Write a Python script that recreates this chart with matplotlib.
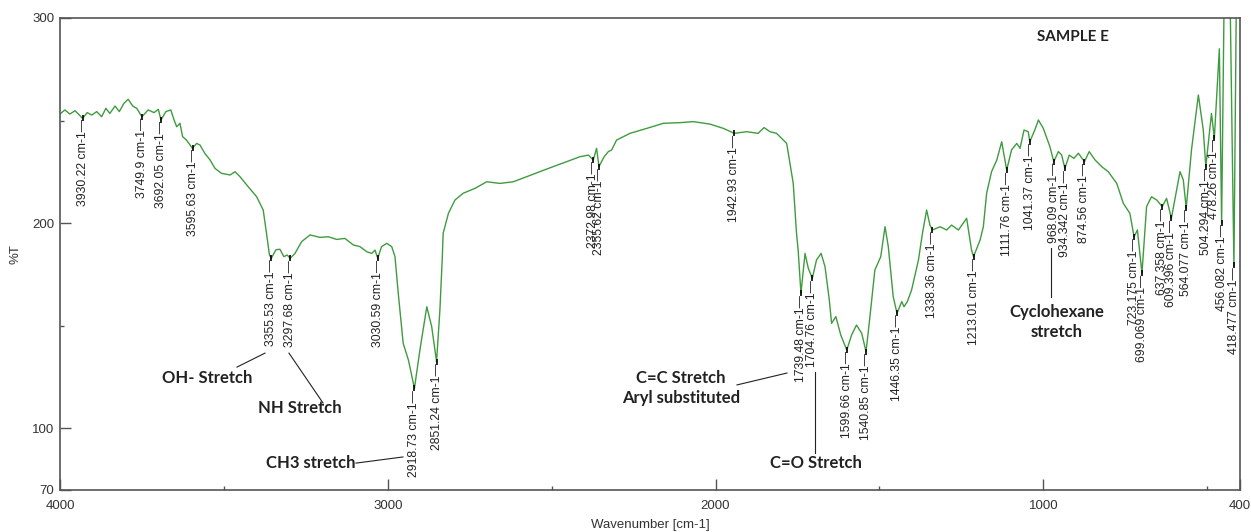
import numpy as np
import matplotlib
matplotlib.use("Agg")
import matplotlib.pyplot as plt
from matplotlib import font_manager

# IR spectrum trace, wavenumber [cm-1] and %T
wavenumber = [
    3998, 3985, 3970, 3954, 3931, 3917, 3903, 3888, 3873, 3860, 3848, 3832,
    3819, 3805, 3792, 3778, 3766, 3750, 3731, 3713, 3700, 3692, 3677, 3662,
    3652, 3644, 3634, 3626, 3614, 3596, 3583, 3573, 3558, 3542, 3527, 3507,
    3481, 3466, 3451, 3426, 3400, 3380, 3370, 3361, 3355.5, 3341, 3329, 3317,
    3307, 3297.7, 3283, 3263, 3237, 3207, 3181, 3156, 3131, 3105, 3085, 3064,
    3049, 3039, 3030.6, 3019, 3003, 2988, 2978, 2968, 2953, 2937, 2918.7, 2902,
    2881, 2866, 2851.2, 2841, 2834, 2831, 2815, 2795, 2770, 2734, 2698, 2658,
    2617, 2576, 2536, 2495, 2454, 2414, 2388, 2373, 2363, 2355.6, 2340, 2327,
    2317, 2302, 2261, 2210, 2159, 2109, 2068, 2017, 1976, 1942.9, 1905, 1870,
    1852, 1834, 1814, 1783, 1763, 1753, 1748, 1739.5, 1727, 1717, 1704.8, 1692,
    1678, 1666, 1653, 1646, 1633, 1618, 1599.7, 1585, 1570, 1554, 1540.9, 1529,
    1514, 1496, 1483, 1473, 1458, 1446.4, 1432, 1425, 1415, 1402, 1381, 1368,
    1356, 1346, 1338.4, 1315, 1295, 1280, 1259, 1234, 1219, 1213, 1193, 1183,
    1173, 1158, 1142, 1127, 1111.8, 1097, 1081, 1071, 1059, 1046, 1041.4, 1026,
    1015, 1000, 980, 968.1, 954, 944, 934.3, 921, 907, 893, 874.6, 860,
    842, 822, 802, 776, 756, 736, 723.2, 713, 699.1, 685, 670, 654,
    637.4, 624, 609.4, 583, 573, 564.1, 548, 527, 512, 504.3, 487, 478.3,
    469, 463, 456.1, 447, 432, 418.5, 410, 400,
]
transmittance = [
    253.5, 255.2, 253.2, 254.8, 251.1, 253.9, 252.7, 254.4, 251.9, 256.0, 253.5, 257.1,
    254.4, 258.4, 260.4, 257.1, 256.0, 251.9, 255.2, 253.9, 255.5, 250.3, 254.4, 255.2,
    250.3, 247.0, 248.7, 242.2, 240.5, 236.5, 238.9, 238.1, 234.0, 230.8, 226.7, 224.3,
    223.5, 225.1, 222.7, 217.8, 212.9, 206.4, 195.1, 184.5, 182.9, 187.1, 187.3, 183.7,
    184.5, 182.9, 185.3, 191.0, 194.3, 193.1, 193.4, 192.1, 192.6, 189.4, 188.6, 186.1,
    185.3, 186.9, 182.9, 188.6, 190.2, 188.6, 183.7, 165.8, 141.5, 133.3, 119.5, 138.2,
    159.3, 149.6, 132.5, 157.7, 182.1, 195.1, 204.8, 211.3, 214.6, 217.0, 220.2, 219.4,
    220.2, 222.7, 225.1, 227.6, 230.0, 232.4, 233.2, 230.8, 236.5, 227.6, 232.4, 234.9,
    235.7, 240.5, 243.8, 246.2, 248.7, 249.0, 249.5, 248.3, 246.2, 243.8, 244.6, 243.8,
    246.6, 244.6, 243.8, 238.9, 219.4, 195.1, 186.9, 165.8, 185.3, 178.0, 173.1, 182.1,
    185.3, 178.8, 162.6, 151.2, 154.5, 145.5, 138.2, 145.5, 150.4, 146.3, 137.4, 154.5,
    177.2, 183.7, 198.3, 188.6, 164.2, 156.1, 161.8, 159.3, 161.8, 167.4, 182.1, 195.9,
    206.4, 199.1, 196.7, 198.3, 196.7, 199.1, 196.7, 202.4, 186.9, 183.7, 191.8, 198.3,
    214.6, 225.1, 230.8, 239.7, 225.9, 235.7, 238.9, 236.5, 245.4, 244.6, 239.7, 245.4,
    250.3, 246.2, 237.3, 230.0, 234.9, 233.2, 226.7, 233.2, 231.6, 234.1, 230.0, 234.9,
    230.8, 227.6, 225.1, 219.4, 209.7, 204.8, 193.4, 196.7, 175.6, 208.1, 212.9, 211.3,
    208.1, 212.1, 202.4, 225.1, 221.1, 207.3, 235.7, 262.5, 245.4, 227.6, 253.5, 241.4,
    268.2, 285.0, 200.0, 330.0, 330.0, 179.0, 330.0, 330.0,
]

# picked peaks
peak_labels = [
    "3930.22", "3749.9", "3692.05", "3595.63", "3355.53", "3297.68", "3030.59",
    "2918.73", "2851.24", "2372.98", "2355.62", "1942.93", "1739.48", "1704.76",
    "1599.66", "1540.85", "1446.35", "1338.36", "1213.01", "1111.76", "1041.37",
    "968.09", "934.342", "874.56", "723.175", "699.069", "637.358", "609.396",
    "564.077", "504.294", "478.26", "456.082", "418.477",
]

names = {f.name for f in font_manager.fontManager.ttflist}
if "Liberation Sans Narrow" in names:
    peak_font, peak_size = "Liberation Sans Narrow", 10.5
else:
    peak_font, peak_size = "Liberation Sans", 8.8
note_font = "Lato" if "Lato" in names else "DejaVu Sans"

fig = plt.figure(figsize=(12.51, 5.32), dpi=100)
ax = fig.add_axes([60 / 1251, 1 - 490 / 532, 1180 / 1251, 472 / 532])

ax.plot(wavenumber, transmittance, color="#3f9b3f", lw=1.0)
ax.set_xlim(4000, 400)
ax.set_ylim(70, 300)

ax.set_xticks([4000, 3000, 2000, 1000, 400])
ax.set_xticks([3500, 2500, 1500, 500], minor=True)
ax.set_yticks([70, 100, 200, 300])
ax.set_yticks([150, 250], minor=True)
ax.tick_params(which="both", direction="in", color="#555555", width=1.0,
               labelsize=9.5, labelcolor="#333333")
ax.tick_params(which="major", length=8)
ax.tick_params(which="minor", length=3)
ax.tick_params(axis="x", pad=7)
ax.tick_params(axis="y", pad=4)
for lab in ax.get_xticklabels() + ax.get_yticklabels():
    lab.set_fontfamily("Liberation Sans")
for sp in ax.spines.values():
    sp.set_color("#555555")
    sp.set_linewidth(1.2)

ax.set_xlabel("Wavenumber [cm-1]", fontsize=9.5, color="#333333",
              family="Liberation Sans", labelpad=5)
ax.set_ylabel("%T", fontsize=9.5, color="#333333", family="Liberation Sans",
              labelpad=8)

# peak markers and labels
wn_rev = np.array(wavenumber[::-1])
t_rev = np.array(transmittance[::-1])
for lab in peak_labels:
    x = float(lab)
    y = np.interp(x, wn_rev, t_rev)
    ax.plot([x], [y], marker="|", color="black", ms=5, mew=1.2)
    ax.annotate(lab + " cm-1\u2014", xy=(x, y), xytext=(0, -1),
                textcoords="offset points", rotation=90, ha="center", va="top",
                fontsize=peak_size, family=peak_font, color="#222222")

# band assignments
note = dict(fontsize=12, fontweight="bold", family=note_font,
            color="#222222", ha="center", va="center")
ax.text(909.6, 290.7, "SAMPLE E", **dict(note, fontsize=11))
ax.text(3551.5, 124.6, "OH- Stretch", **note)
ax.plot([3460, 3374.6], [129.9, 136.7], color="#222222", lw=0.8)
ax.text(3267.8, 110.0, "NH Stretch", **note)
ax.plot([3301.4, 3197.6], [136.7, 112.4], color="#222222", lw=0.8)
ax.text(3234.2, 83.1, "CH3 stretch", **note)
ax.plot([3097, 2953.6], [83.1, 86.1], color="#222222", lw=0.8)
ax.text(2105.5, 124.6, "C=C Stretch", **note)
ax.text(2105.5, 114.8, "Aryl substituted", **note)
ax.plot([1934.6, 1782.1], [121.2, 127.0], color="#222222", lw=0.8)
ax.text(1693.6, 83.1, "C=O Stretch", **note)
ax.plot([1696.6, 1696.6], [127.5, 88.0], color="#222222", lw=0.8)
ax.text(958.3, 156.7, "Cyclohexane", **note)
ax.text(958.3, 147.0, "stretch", **note)
ax.plot([976.6, 976.6], [187.9, 164.0], color="#222222", lw=0.8)

fig.savefig("out.png", dpi=100)
